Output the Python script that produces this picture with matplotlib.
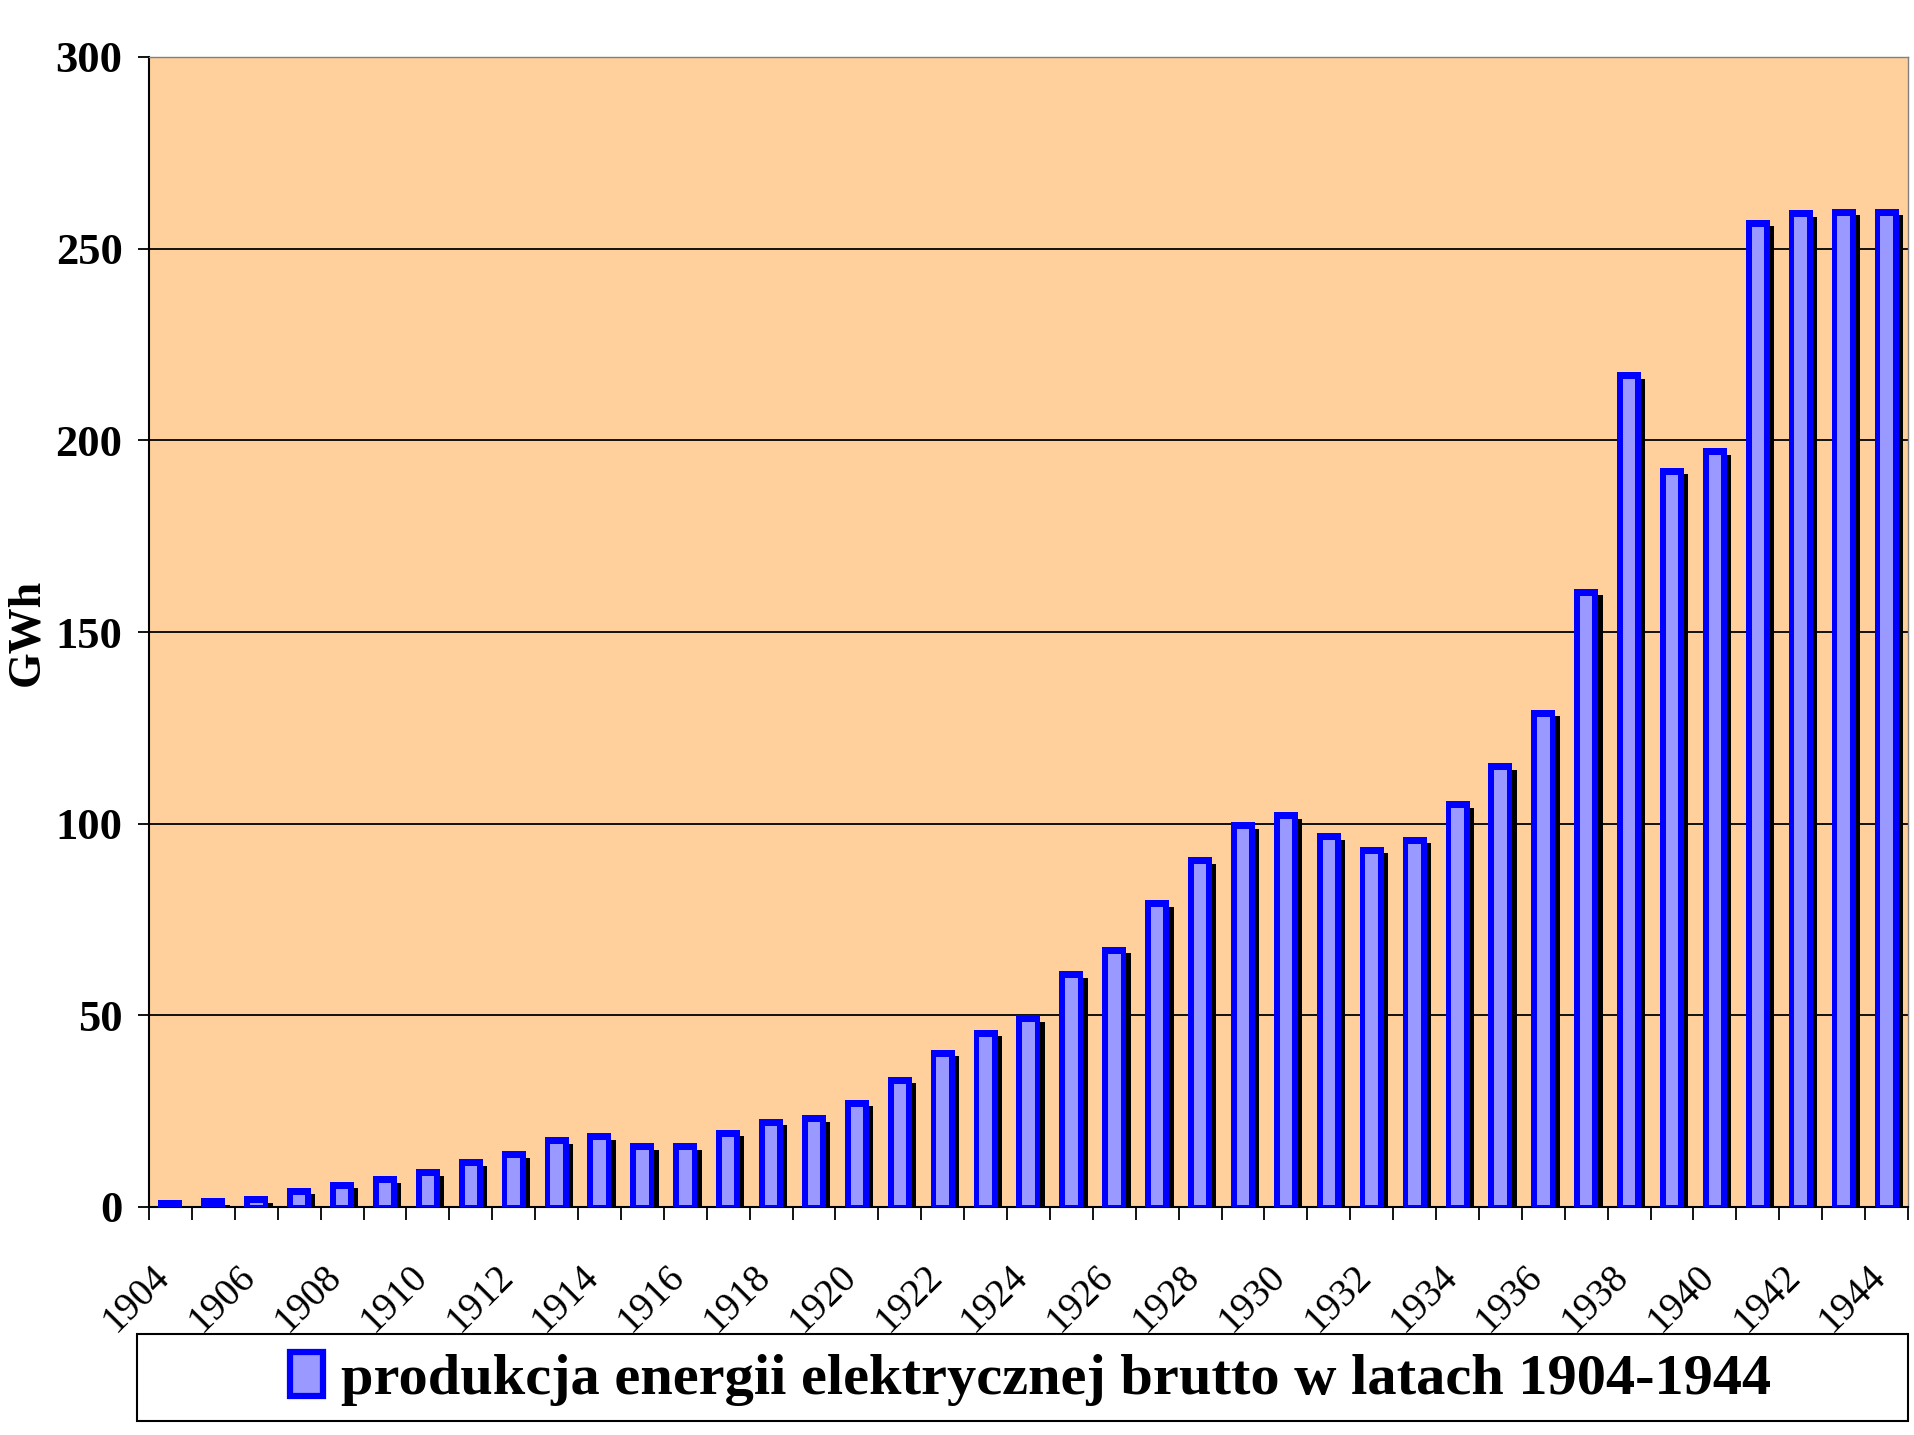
import matplotlib
matplotlib.use('Agg')
import matplotlib.pyplot as plt
from matplotlib.patches import Rectangle
from matplotlib.transforms import ScaledTranslation
import numpy as np

# ---- data ----
years = list(range(1904, 1945))
gwh = [1.8, 2.3, 2.8, 5.0, 6.6, 8.0, 9.8, 12.4, 14.5, 18.2,
       19.3, 16.6, 16.6, 20.2, 23.0, 24.0, 28.0, 34.0, 41.0, 46.2,
       50.0, 61.5, 67.9, 80.0, 91.2, 100.4, 103.0, 97.5, 94.0, 96.6,
       105.8, 115.7, 129.7, 161.3, 217.7, 192.9, 198.0, 257.6, 260.0, 260.4,
       260.4]
tick_labels = [str(y) for y in years[::2]]
y_ticks = [0, 50, 100, 150, 200, 250, 300]
legend_label = 'produkcja energii elektrycznej brutto w latach 1904-1944'
y_label = 'GWh'

plt.rcParams['font.family'] = ['Liberation Serif', 'DejaVu Serif']

W, H = 1915, 1435
fig = plt.figure(figsize=(W / 100, H / 100), dpi=100)
fig.patch.set_facecolor('white')

ax_l, ax_r, ax_t, ax_b = 149, 1908, 57, 1207
ax = fig.add_axes([ax_l / W, (H - ax_b) / H, (ax_r - ax_l) / W, (ax_b - ax_t) / H])
ax.set_facecolor('#FFD09C')

x = np.arange(len(years))
vals = np.array(gwh)

cat_px = (ax_r - ax_l) / len(years)
unit_px = (ax_b - ax_t) / 300.0
outer_w = 24 / cat_px
inner_w = 12.5 / cat_px
shadow_dx = 4.3 / cat_px
shadow_dy = 6.5 / unit_px
top_b = 7.0 / unit_px
bot_b = 2.5 / unit_px

# shadow, outer (blue border) and inner (light fill)
ax.bar(x + shadow_dx, vals, bottom=-shadow_dy, width=outer_w, color='black', zorder=2, linewidth=0)
ax.bar(x, vals, width=outer_w, color='#0000FF', zorder=3, linewidth=0)
inner_h = np.maximum(vals - top_b - bot_b, 0)
ax.bar(x, inner_h, bottom=bot_b, width=inner_w, color='#9999FF', zorder=4, linewidth=0)

ax.set_xlim(-0.5, len(years) - 0.5)
ax.set_ylim(0, 300)
ax.set_axisbelow(True)
ax.yaxis.grid(True, color='black', linewidth=1.3)
ax.xaxis.grid(False)

for side in ['left', 'bottom']:
    ax.spines[side].set_color('black')
    ax.spines[side].set_linewidth(1.5)
for side in ['top', 'right']:
    ax.spines[side].set_color('#808080')
    ax.spines[side].set_linewidth(1.0)

ax.set_yticks(y_ticks)
ax.set_yticklabels([str(v) for v in y_ticks], fontweight='bold', fontsize=32)
ax.tick_params(axis='y', length=8, width=1.3, direction='out', pad=11)

ax.set_xticks(x[::2])
ax.set_xticklabels(tick_labels, rotation=45, ha='right', va='center',
                   rotation_mode='anchor', fontsize=28)
ax.tick_params(axis='x', which='major', length=0, pad=46)
for lab in ax.get_xticklabels():
    lab.set_transform(lab.get_transform() + ScaledTranslation(-6 / 100, 0, fig.dpi_scale_trans))
ax.set_xticks(np.arange(len(years) + 1) - 0.5, minor=True)
ax.tick_params(axis='x', which='minor', length=9.5, width=1.3, direction='out')

ax.set_ylabel(y_label, fontsize=33, fontweight='bold', va='center')
ax.yaxis.set_label_coords((27 - ax_l) / (ax_r - ax_l), 0.5)

# legend box
fig.add_artist(Rectangle((137 / W, (H - 1421) / H), 1771 / W, 87 / H,
                         transform=fig.transFigure, facecolor='white',
                         edgecolor='black', linewidth=1.5))
fs = 42
fs_px = fs * 100 / 72
handle = Rectangle((0, 0), 1, 1, facecolor='#9999FF', edgecolor='#0000FF', linewidth=4.5)
fig.legend([handle], [legend_label], loc='center',
           bbox_to_anchor=(1031 / W, (H - 1379) / H), frameon=False,
           prop=dict(family='Liberation Serif', weight='bold', size=fs),
           handlelength=33 / fs_px, handleheight=45 / fs_px,
           handletextpad=18 / fs_px, borderpad=0.1)

fig.savefig('out.png', dpi=100, facecolor='white')
